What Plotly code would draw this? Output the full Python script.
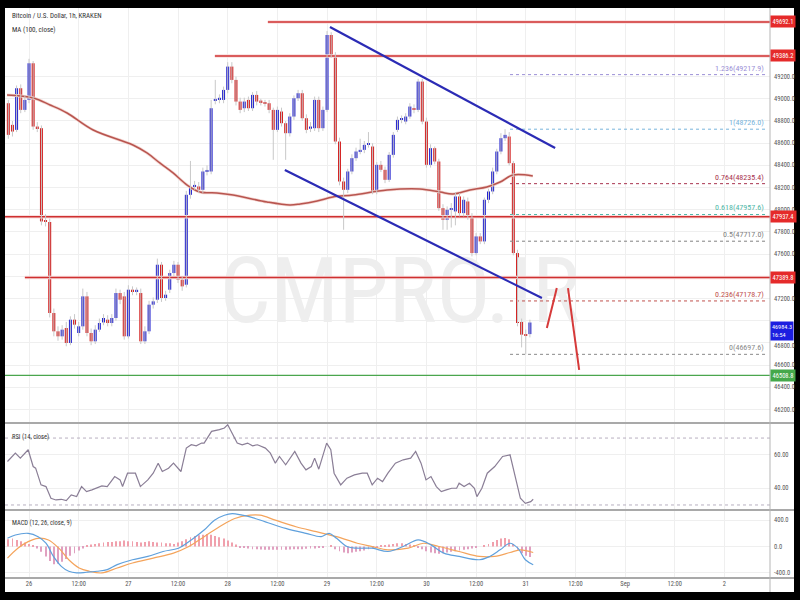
import plotly.graph_objects as go
from plotly.subplots import make_subplots

# ---------------- data ----------------
first_hour = -5  # first candle: 25 Aug 19:00 (hours since 26 Aug 00:00)
opens = [48960, 48765, 48720, 49095, 48900, 48990, 49320, 48750, 48735, 47895,
         47890, 47070, 46905, 46860, 46935, 46800, 47010, 46890, 46950, 47220,
         46890, 46815, 46920, 46985, 47010, 46980, 47025, 47250, 47220, 46860,
         47280, 47265, 47250, 46815, 46905, 47145, 47190, 47505, 47205, 47280,
         47430, 47505, 47370, 47325, 48135, 48210, 48210, 48180, 48345, 48345,
         48985, 48995, 48990, 49080, 49290, 49170, 48975, 48915, 48990, 48915,
         49035, 48975, 48965, 48960, 48900, 48720, 48885, 48780, 48690, 48840,
         49005, 49050, 48825, 48730, 48735, 48990, 48735, 48900, 49575, 49395,
         48615, 48255, 48180, 48345, 48465, 48525, 48540, 48585, 48570, 48165,
         48405, 48360, 48270, 48495, 48720, 48810, 48795, 48840, 48915, 48900,
         49155, 48795, 48405, 48555, 48435, 48015, 47910, 48000, 47985, 48120,
         47970, 48075, 47940, 47610, 47760, 47715, 48090, 48165, 48345, 48525,
         48645, 48660, 48420, 47610, 46995, 46875, 46880]
closes = [48675, 48705, 49095, 48900, 48990, 49320, 48750, 48735, 47895, 47890,
          47070, 46905, 46860, 46920, 46800, 47010, 46965, 46950, 47220, 46890,
          46815, 46920, 46980, 47025, 46980, 47025, 47250, 47190, 46860, 47280,
          47265, 47270, 46815, 46905, 47145, 47175, 47505, 47205, 47235, 47430,
          47505, 47370, 47310, 48135, 48210, 48215, 48180, 48345, 48350, 48915,
          48995, 49005, 49080, 49290, 49170, 48975, 48900, 48975, 48915, 49035,
          48975, 48970, 48955, 48900, 48720, 48900, 48780, 48690, 48840, 49005,
          49050, 48825, 48720, 48750, 48990, 48735, 48900, 49575, 49395, 48615,
          48255, 48180, 48345, 48465, 48525, 48540, 48585, 48590, 48165, 48405,
          48360, 48270, 48495, 48675, 48810, 48815, 48840, 48930, 48900, 49155,
          48795, 48405, 48555, 48435, 48015, 47910, 48000, 48010, 48120, 47970,
          48090, 47940, 47610, 47760, 47715, 48090, 48165, 48345, 48525, 48645,
          48675, 48420, 47610, 46980, 46875, 46865, 46984.3]
highs = [48990, 48800, 49120, 49130, 49030, 49360, 49340, 48790, 48760, 47960,
         47920, 47110, 46950, 46960, 46990, 47040, 47060, 46990, 47290, 47260,
         46930, 46960, 47020, 47060, 47050, 47060, 47290, 47280, 47260, 47320,
         47310, 47300, 47290, 46950, 47180, 47210, 47560, 47530, 47270, 47460,
         47540, 47530, 47400, 48170, 48440, 48260, 48250, 48380, 48400, 48990,
         49170, 49040, 49110, 49330, 49330, 49200, 49010, 49010, 49020, 49060,
         49070, 49000, 48990, 48990, 48920, 48930, 48920, 48800, 48870, 49030,
         49080, 49080, 48860, 48790, 49020, 49020, 48930, 49610, 49600, 49420,
         48650, 48290, 48370, 48500, 48560, 48640, 48620, 48700, 48600, 48430,
         48440, 48390, 48520, 48700, 48840, 48850, 48870, 48960, 48950, 49180,
         49180, 48830, 48590, 48570, 48460, 48050, 48030, 48060, 48160, 48150,
         48120, 48110, 47970, 47790, 47790, 48110, 48190, 48380, 48550, 48690,
         48726, 48700, 48440, 47640, 47020, 46920, 47010]
lows = [48640, 48660, 48700, 48870, 48880, 48960, 48720, 48700, 47860, 47850,
        47030, 46860, 46820, 46830, 46770, 46780, 46930, 46860, 46920, 46860,
        46780, 46790, 46900, 46960, 46950, 46950, 47000, 47150, 46830, 46840,
        47230, 47230, 46790, 46790, 46880, 47110, 47160, 47170, 47180, 47250,
        47400, 47340, 47270, 47300, 48100, 48180, 48150, 48150, 48310, 48320,
        48950, 48960, 48960, 49050, 49140, 48940, 48870, 48880, 48890, 48890,
        48940, 48940, 48930, 48870, 48450, 48700, 48750, 48450, 48660, 48810,
        48980, 48800, 48690, 48700, 48710, 48700, 48710, 48880, 49370, 48590,
        48220, 47820, 48150, 48320, 48440, 48500, 48510, 48560, 48140, 48140,
        48340, 48240, 48250, 48470, 48700, 48780, 48770, 48820, 48870, 48880,
        48770, 48380, 48380, 48410, 47990, 47820, 47820, 47840, 47860, 47940,
        47940, 47910, 47580, 47590, 47690, 47690, 48060, 48140, 48320, 48500,
        48620, 48400, 47590, 46950, 46760, 46697.6, 46850]

ma_hours = [-5.3, 1.0, 5.1, 9.2, 15.5, 25.1, 28.5, 31.6, 34.8, 38.2, 41.3, 45.4,
            49.3, 57.5, 63.0, 65.5, 69.6, 73.4, 78.3, 86.5, 94.4, 99.3, 102.4,
            106.5, 110.6, 113.8, 116.9, 121.7]
ma_values = [49034, 49007, 48944, 48872, 48719, 48584, 48512, 48422, 48332, 48223,
             48160, 48151, 48133, 48070, 48043, 48052, 48079, 48115, 48133, 48178,
             48187, 48160, 48142, 48178, 48205, 48250, 48313, 48304]

rsi_hours = [-5.2, -3.3, -2.1, -0.2, 1.0, 1.6, 2.9, 4.1, 5.3, 6.5, 7.8, 9.0, 10.2,
             11.5, 12.7, 13.9, 15.2, 16.4, 17.6, 18.9, 20.7, 22.0, 22.6, 23.8,
             25.7, 26.9, 28.7, 30.0, 31.2, 32.2, 33.7, 34.9, 36.7, 38.0, 39.2,
             40.4, 41.7, 42.3, 44.1, 46.0, 47.2, 48.0, 49.1, 50.3, 51.5, 52.8,
             54.0, 55.2, 57.1, 58.3, 59.5, 60.5, 62.0, 64.2, 65.7, 66.9, 68.2,
             69.0, 70.0, 71.9, 72.9, 73.7, 75.3, 76.8, 78.6, 80.5, 81.7, 82.9,
             84.2, 85.4, 86.7, 88.5, 90.4, 92.2, 93.4, 94.7, 95.9, 97.1, 98.4,
             99.6, 100.8, 102.1, 103.3, 103.9, 105.1, 106.4, 107.6, 108.2, 109.4,
             110.7, 112.5, 114.4, 116.2, 117.5, 118.7, 119.9, 121.2, 121.8]
rsi_values = [56, 61, 58, 63, 53, 52, 42, 41, 34, 33, 33.4, 32.6, 36, 35, 41, 38,
              39, 40, 41.4, 41, 47, 45, 41, 49, 49, 41, 45, 49, 55, 50, 52, 55, 50,
              64, 66, 65.4, 67, 67, 74, 75, 76, 78, 73, 67, 66, 67, 65.4, 66, 64,
              61, 55, 59, 54, 62, 55, 51, 53, 58, 51.4, 67, 63, 49, 42, 46, 48, 49,
              49, 42, 46, 44, 49, 55, 57, 58, 62, 55, 45, 47, 41, 38, 39, 40, 40,
              43, 41, 43, 40, 35, 40, 49, 53, 59, 60, 46, 34, 31, 32, 33.4]

macd_hours = [-5.2, -3.3, -0.2, 2.2, 4.1, 5.9, 7.8, 9.6, 11.5, 13.9, 16.4, 18.9,
              21.3, 25.0, 28.7, 32.4, 36.1, 39.2, 42.3, 44.8, 47.2, 49.1, 51.5,
              53.4, 57.1, 62.0, 66.9, 70.6, 72.5, 74.3, 76.8, 79.3, 82.9, 86.7,
              90.4, 94.0, 97.1, 100.2, 103.9, 108.8, 111.3, 113.8, 116.2, 118.1,
              119.9, 121.8]
macd_values = [125, 175, 200, 150, 50, -150, -300, -375, -400, -390, -375, -350,
               -275, -200, -150, -75, -25, 100, 250, 400, 475, 500, 475, 450, 375,
               275, 200, 150, 200, 125, 0, -25, -25, -75, 0, 100, 25, -100, -150,
               -200, -150, -50, 50, -25, -200, -275]
signal_hours = [-5.2, -2.7, -0.2, 2.2, 4.7, 7.2, 9.6, 12.1, 14.6, 17.6, 21.3, 25.0,
                30.0, 34.9, 38.6, 42.3, 46.0, 49.7, 53.4, 55.8, 59.5, 64.5, 69.4,
                74.3, 79.3, 82.9, 86.7, 91.6, 95.3, 99.0, 103.9, 108.8, 112.5,
                116.2, 118.7, 121.8]
signal_values = [-175, -25, 75, 125, 100, -25, -200, -325, -375, -400, -325, -250,
                 -175, -100, 0, 150, 300, 425, 475, 475, 400, 300, 225, 150, 50, 0,
                 -50, -25, 50, 0, -75, -150, -150, -90, -50, -90]
hist_values = [110, 120, 100, 80, 60, 40, 20, -30, -80, -150, -220, -270, -260, -230,
               -190, -140, -100, -60, -30, 20, 30, 40, 50, 60, 70, 70, 80, 80, 90, 80,
               80, 70, 60, 70, 80, 70, 60, 60, 50, 50, 40, 60, 80, 110, 140, 160, 170,
               180, 190, 180, 160, 140, 120, 90, 60, 30, -10, -20, -30, -40, -40, -45,
               -50, -50, -50, -50, -50, -50, -45, -40, -40, -40, -35, -30, -30, -20,
               -20, 0, 20, -40, -70, -90, -100, -90, -80, -70, -60, -40, -30, -10, 10,
               20, 30, 40, 50, 50, 40, 30, 10, -10, -40, -70, -90, -100, -110, -100,
               -90, -80, -70, -60, -50, -40, -30, -20, 0, 20, 40, 70, 100, 120, 130,
               110, 40, -50, -100, -140, -160]

resistance_levels = [49692.1, 49386.2, 47937.4, 47389.8]
resistance_start_hours = [57.7, 44.9, -5.8, -1.0]
support_level = 46508.8
last_price = 46984.3
countdown = "16:54"

fib_ratios = ["1.236", "1", "0.764", "0.618", "0.5", "0.236", "0"]
fib_prices = [49217.9, 48726.0, 48235.4, 47957.6, 47717.0, 47178.7, 46697.6]
fib_colors = ["#9b8fd6", "#78b4dc", "#a8324e", "#4fb8a8", "#808080", "#c0504d", "#8a8a8a"]
fib_start_hour = 116.2
fib_end_hour = 178.3

channel_upper_hours = [72.7, 127.1]
channel_upper_prices = [49647, 48557]
channel_lower_hours = [61.8, 123.9]
channel_lower_prices = [48359, 47205]

path1_hours = [125.1, 127.5]
path1_prices = [46935, 47295]
path2_hours = [130.2, 132.9]
path2_prices = [47295, 46557]

tick_hours = [0, 12, 24, 36, 48, 60, 72, 84, 96, 108, 120, 132, 144, 156, 168]
tick_labels = ["26", "12:00", "27", "12:00", "28", "12:00", "29", "12:00", "30",
               "12:00", "31", "12:00", "Sep", "12:00", "2"]
# price labels visible on the axis (47400 and 47000 are hidden behind level boxes)
price_ticks = [46200, 46400, 46600, 46800, 47200, 47600, 47800,
               48000, 48200, 48400, 48600, 48800, 49000, 49200]
price_grid = [46200, 46400, 46600, 46800, 47000, 47200, 47400, 47600, 47800,
              48000, 48200, 48400, 48600, 48800, 49000, 49200]
rsi_ticks = [40, 60]
macd_ticks = [-400, 0, 400]

# ---------------- figure ----------------
X_RANGE = [-5.8, 179]
UP = "#2424cf"
DOWN = "#d42020"
NARROW = "Liberation Sans Narrow, Arial Narrow, Roboto Condensed, Roboto, sans-serif"

hours = [first_hour + k for k in range(len(opens))]

fig = make_subplots(rows=3, cols=1, shared_xaxes=True, vertical_spacing=0,
                    row_heights=[415, 87, 68])

# watermark (below everything)
fig.add_trace(go.Scatter(x=[89.6], y=[47190], mode="text", text=["CMPRO.IR"],
                         textfont=dict(size=90, color="#eeeeee", family=NARROW),
                         hoverinfo="skip", showlegend=False), row=1, col=1)

# horizontal resistance lines (halo + line)
for lvl, h0 in zip(resistance_levels, resistance_start_hours):
    fig.add_trace(go.Scatter(x=[h0, X_RANGE[1]], y=[lvl, lvl], mode="lines",
                             line=dict(color="#f9dede", width=3.5), hoverinfo="skip",
                             showlegend=False), row=1, col=1)
    fig.add_trace(go.Scatter(x=[h0, X_RANGE[1]], y=[lvl, lvl], mode="lines",
                             line=dict(color="#cf3030", width=1.5), hoverinfo="skip",
                             showlegend=False), row=1, col=1)
fig.add_trace(go.Scatter(x=X_RANGE, y=[support_level, support_level], mode="lines",
                         line=dict(color="#4aa64e", width=1.3), hoverinfo="skip",
                         showlegend=False), row=1, col=1)

# fib dotted lines
for r, p, c in zip(fib_ratios, fib_prices, fib_colors):
    fig.add_trace(go.Scatter(x=[fib_start_hour, fib_end_hour], y=[p, p], mode="lines",
                             line=dict(color=c, width=1, dash="dot"), hoverinfo="skip",
                             showlegend=False), row=1, col=1)

# MA 100
fig.add_trace(go.Scatter(x=ma_hours, y=ma_values, mode="lines",
                         line=dict(color="#f4d6d2", width=3, shape="spline"),
                         hoverinfo="skip", showlegend=False), row=1, col=1)
fig.add_trace(go.Scatter(x=ma_hours, y=ma_values, mode="lines",
                         line=dict(color="#b8554f", width=1.5, shape="spline"),
                         hoverinfo="skip", showlegend=False), row=1, col=1)

# wicks
wx, wy = [], []
for h, hi, lo in zip(hours, highs, lows):
    wx += [h, h, None]
    wy += [lo, hi, None]
fig.add_trace(go.Scatter(x=wx, y=wy, mode="lines", line=dict(color="#c8c8c8", width=1),
                         hoverinfo="skip", showlegend=False), row=1, col=1)

# bodies
bases = [min(o, c) for o, c in zip(opens, closes)]
sizes = [max(abs(c - o), 14) for o, c in zip(opens, closes)]
cols = [UP if c >= o else DOWN for o, c in zip(opens, closes)]
fig.add_trace(go.Bar(x=hours, y=sizes, base=bases, width=0.72,
                     marker=dict(color=cols, line_width=0),
                     hoverinfo="skip", showlegend=False), row=1, col=1)

# channel
fig.add_trace(go.Scatter(x=channel_upper_hours, y=channel_upper_prices, mode="lines",
                         line=dict(color="#2b2bb5", width=2.2), hoverinfo="skip",
                         showlegend=False), row=1, col=1)
fig.add_trace(go.Scatter(x=channel_lower_hours, y=channel_lower_prices, mode="lines",
                         line=dict(color="#2b2bb5", width=2.2), hoverinfo="skip",
                         showlegend=False), row=1, col=1)
# projected path
for hx, pyv in ((path1_hours, path1_prices), (path2_hours, path2_prices)):
    fig.add_trace(go.Scatter(x=hx, y=pyv, mode="lines", line=dict(color="#d63a3a", width=2),
                             hoverinfo="skip", showlegend=False), row=1, col=1)

# RSI
fig.add_hrect(y0=30, y1=70, fillcolor="#f2e2fa", line_width=0, layer="below", row=2, col=1)
for lv in (70, 30):
    fig.add_trace(go.Scatter(x=X_RANGE, y=[lv, lv], mode="lines",
                             line=dict(color="#b8b0c0", width=1, dash="dot"),
                             hoverinfo="skip", showlegend=False), row=2, col=1)
fig.add_trace(go.Scatter(x=rsi_hours, y=rsi_values, mode="lines",
                         line=dict(color="#8a7e96", width=1.2), hoverinfo="skip",
                         showlegend=False), row=2, col=1)

# MACD
fig.add_trace(go.Bar(x=hours, y=hist_values, width=0.22,
                     marker=dict(color=["#f0a0ac" if v >= 0 else "#e0a0c0" for v in hist_values],
                                 line_width=0),
                     hoverinfo="skip", showlegend=False), row=3, col=1)
fig.add_trace(go.Scatter(x=signal_hours, y=signal_values, mode="lines",
                         line=dict(color="#f4a45c", width=1.2, shape="spline"),
                         hoverinfo="skip", showlegend=False), row=3, col=1)
fig.add_trace(go.Scatter(x=macd_hours, y=macd_values, mode="lines",
                         line=dict(color="#5fa0dc", width=1.2, shape="spline"),
                         hoverinfo="skip", showlegend=False), row=3, col=1)

# ---------------- axes ----------------
grid = "#efefef"
axis_font = dict(size=6.5, color="#555555", family=NARROW)
for r in (1, 2, 3):
    fig.update_xaxes(range=X_RANGE, tickvals=tick_hours, ticktext=tick_labels,
                     showgrid=True, gridcolor=grid, zeroline=False, showline=False,
                     ticks="", showticklabels=(r == 3), tickfont=axis_font, row=r, col=1)
fig.update_yaxes(range=[46079, 49818], tickvals=price_grid, row=1, col=1)
fig.update_yaxes(range=[27, 79], tickvals=rsi_ticks, row=2, col=1)
fig.update_yaxes(range=[-477, 554], tickvals=macd_ticks, row=3, col=1)
fig.update_yaxes(side="right", showgrid=True, gridcolor=grid, zeroline=False, showline=False,
                 ticks="", showticklabels=False)

# ---------------- layout, annotations, shapes ----------------
W, H = 800, 600
ML, MR, MT, MB = 5, 30, 8, 22
PW, PH = W - ML - MR, H - MT - MB


def px(xp):
    return (xp - ML) / PW


def py(yp):
    return (H - MB - yp) / PH


AX_X = px(772)
ann = []
# axis labels (drawn as text so they sit exactly like the reference)
for t in price_ticks:
    ann.append(dict(x=AX_X, y=t, xref="paper", yref="y", xanchor="left", yanchor="middle",
                    text=f"{t:.1f}", showarrow=False, font=axis_font,
                    yshift=-3 if t == 46800 else 0))
for t in rsi_ticks:
    ann.append(dict(x=AX_X, y=t, xref="paper", yref="y2", xanchor="left", yanchor="middle",
                    text=f"{t:.2f}", showarrow=False, font=axis_font))
for t in macd_ticks:
    ann.append(dict(x=AX_X, y=t, xref="paper", yref="y3", xanchor="left", yanchor="middle",
                    text=f"{t:.1f}", showarrow=False, font=axis_font))

ann.append(dict(x=px(10), y=py(16), xref="paper", yref="paper", xanchor="left", yanchor="middle",
                text="Bitcoin / U.S. Dollar, 1h, KRAKEN", showarrow=False,
                font=dict(size=7, color="#333333", family=NARROW)))
ann.append(dict(x=px(10), y=py(30), xref="paper", yref="paper", xanchor="left", yanchor="middle",
                text="MA (100, close)", showarrow=False,
                font=dict(size=7, color="#333333", family=NARROW)))
ann.append(dict(x=px(10), y=py(437), xref="paper", yref="paper", xanchor="left", yanchor="middle",
                text="RSI (14, close)", showarrow=False,
                font=dict(size=6.5, color="#333333", family=NARROW)))
ann.append(dict(x=px(10), y=py(523), xref="paper", yref="paper", xanchor="left", yanchor="middle",
                text="MACD (12, 26, close, 9)", showarrow=False,
                font=dict(size=6.5, color="#333333", family=NARROW)))

for r, p, c in zip(fib_ratios, fib_prices, fib_colors):
    ann.append(dict(x=fib_end_hour - 0.3, y=p, xref="x", yref="y", xanchor="right", yanchor="bottom",
                    text=f"{r}({p:.1f})", showarrow=False,
                    font=dict(size=8, color=c, family=NARROW)))

BOX_X = px(770)
for lvl in resistance_levels:
    ann.append(dict(x=BOX_X, y=lvl, xref="paper", yref="y", xanchor="left", yanchor="middle",
                    text=f"{lvl:.1f}", showarrow=False, bgcolor="#e52a2a", borderpad=1.5,
                    font=dict(size=6.5, color="white", family=NARROW)))
ann.append(dict(x=BOX_X, y=support_level, xref="paper", yref="y", xanchor="left", yanchor="middle",
                text=f"{support_level:.1f}", showarrow=False, bgcolor="#45a84a", borderpad=1.5,
                font=dict(size=6.5, color="white", family=NARROW)))
ann.append(dict(x=BOX_X, y=last_price, xref="paper", yref="y", xanchor="left", yanchor="top",
                text=f"{last_price:.1f}<br>{countdown}", showarrow=False, bgcolor="#1c1ee0",
                borderpad=1, yshift=2, align="left",
                font=dict(size=6.2, color="white", family=NARROW)))

shapes = []
# panel separators
for yp in (423, 510, 578):
    shapes.append(dict(type="line", xref="paper", yref="paper", x0=px(5), x1=px(795),
                       y0=py(yp), y1=py(yp), line=dict(color="#a9a9a9", width=2)))
# price axis border
shapes.append(dict(type="line", xref="paper", yref="paper", x0=px(770), x1=px(770),
                   y0=py(8), y1=py(592), line=dict(color="#b5b5b5", width=1)))
# black frame
for x0, x1, y0, y1 in ((0, 800, 0, 8), (0, 5, 0, 600), (794, 800, 0, 600), (0, 800, 592, 600)):
    shapes.append(dict(type="rect", xref="paper", yref="paper", x0=px(x0), x1=px(x1),
                       y0=py(y0), y1=py(y1), fillcolor="black", line_width=0, layer="above"))

fig.update_layout(width=W, height=H, margin=dict(l=ML, r=MR, t=MT, b=MB),
                  paper_bgcolor="white", plot_bgcolor="white", barmode="overlay",
                  showlegend=False, annotations=ann, shapes=list(fig.layout.shapes) + shapes,
                  font=dict(family=NARROW))

fig.write_html("out.html", config={"displayModeBar": False},
               post_script="document.body.style.margin='0';document.body.style.overflow='hidden';")
